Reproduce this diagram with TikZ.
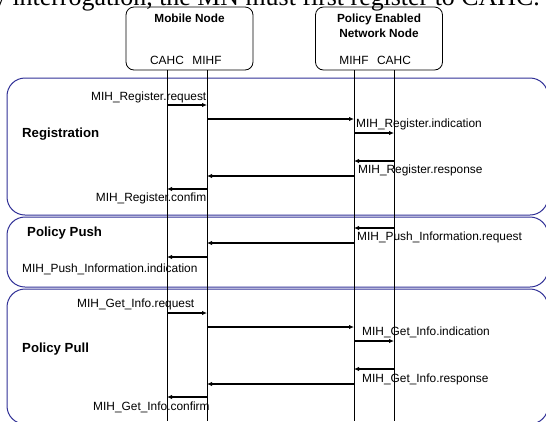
\documentclass[tikz,border=0pt]{standalone}
\usepackage{fontspec}
\setmainfont{Liberation Sans}
\newfontfamily\serifpage{Liberation Serif}
\usetikzlibrary{arrows.meta}
\definecolor{secblue}{RGB}{48,48,150}
\begin{document}
\begin{tikzpicture}[x=1pt,y=-1pt,
  lbl/.style={inner sep=0pt, font=\fontsize{11.9}{13}\selectfont},
  sec/.style={inner sep=0pt, anchor=west, font=\fontsize{13.2}{15}\selectfont\bfseries},
  ttl/.style={inner sep=0pt, font=\fontsize{11.8}{15}\selectfont\bfseries, align=center},
  entity/.style={draw, rounded corners=8pt, line width=0.8pt, inner sep=0pt, minimum width=127pt, minimum height=63pt},
  phase/.style={draw=secblue, rounded corners=18pt, line width=1pt},
  life/.style={line width=0.8pt},
  msg/.style={line width=1.1pt, -{Latex[length=5pt,width=4.5pt]}}]
\useasboundingbox (0,0) rectangle (546,421);
\clip (0,0) rectangle (546,421);

% cropped page text
\node[anchor=base east, inner sep=0pt, font=\serifpage\fontsize{25.9}{28}\selectfont] (pagetext) at (540,5.5) {y interrogation, the MN must first register to CAHC.};

% phase frames
\draw[phase] (7,78) rectangle (548,215);
\draw[phase] (7,217) rectangle (548,287);
\draw[phase] (7,289) rectangle (548,424);

\node[sec] (reg) at (22,134) {Registration};
\node[sec] (push) at (27,233) {Policy Push};
\node[sec] (pull) at (22,349) {Policy Pull};

% entities
\node[entity] (mn) at (189.5,38.5) {};
\node[ttl] (mnt) at (189.5,18) {Mobile Node};
\node[lbl] (mncahc) at (167,60) {CAHC};
\node[lbl] (mnmihf) at (207,60) {MIHF};

\node[entity] (nn) at (379,38.5) {};
\node[ttl] (nnt) at (379,25.5) {Policy Enabled\\Network Node};
\node[lbl] (nnmihf) at (354,60) {MIHF};
\node[lbl] (nncahc) at (394,60) {CAHC};

% lifelines
\coordinate (la) at (167,421);
\coordinate (lb) at (207,421);
\coordinate (lc) at (354,421);
\coordinate (ld) at (394,421);
\draw[life] (la |- mn.south) -- (la);
\draw[life] (lb |- mn.south) -- (lb);
\draw[life] (lc |- nn.south) -- (lc);
\draw[life] (ld |- nn.south) -- (ld);

% Registration
\draw[msg] (la |- 0,105) -- (lb |- 0,105);
\node[lbl, anchor=east] (m1) at (206.5,97) {MIH\_Register.request};
\draw[msg] (lb |- 0,119) -- (lc |- 0,119);
\node[lbl, anchor=west] (m2) at (356,124) {MIH\_Register.indication};
\draw[msg] (lc |- 0,133) -- (ld |- 0,133);
\draw[msg] (ld |- 0,161) -- (lc |- 0,161);
\node[lbl, anchor=west] (m3) at (358,170) {MIH\_Register.response};
\draw[msg] (lc |- 0,176) -- (lb |- 0,176);
\draw[msg] (lb |- 0,189) -- (la |- 0,189);
\node[lbl, anchor=east] (m4) at (206.5,198) {MIH\_Register.confim};

% Policy Push
\draw[msg] (ld |- 0,228) -- (lc |- 0,228);
\node[lbl, anchor=west] (m5) at (357,237) {MIH\_Push\_Information.request};
\draw[msg] (lc |- 0,243) -- (lb |- 0,243);
\draw[msg] (lb |- 0,257) -- (la |- 0,257);
\node[lbl, anchor=west] (m6) at (22,269) {MIH\_Push\_Information.indication};

% Policy Pull
\node[lbl, anchor=west] (m7) at (77,304) {MIH\_Get\_Info.request};
\draw[msg] (la |- 0,313) -- (lb |- 0,313);
\draw[msg] (lb |- 0,327) -- (lc |- 0,327);
\node[lbl, anchor=west] (m8) at (362,332) {MIH\_Get\_Info.indication};
\draw[msg] (lc |- 0,341) -- (ld |- 0,341);
\draw[msg] (ld |- 0,369) -- (lc |- 0,369);
\node[lbl, anchor=west] (m9) at (362,379) {MIH\_Get\_Info.response};
\draw[msg] (lc |- 0,384) -- (lb |- 0,384);
\draw[msg] (lb |- 0,397) -- (la |- 0,397);
\node[lbl, anchor=west] (m10) at (93,407) {MIH\_Get\_Info.confirm};
\end{tikzpicture}
\end{document}
